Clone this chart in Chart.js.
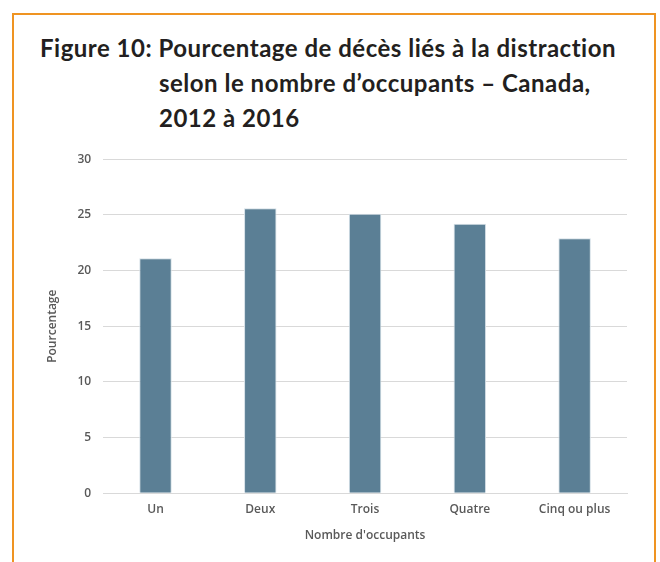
<!DOCTYPE html>
<html><head><meta charset="utf-8">
<script src="https://cdn.jsdelivr.net/npm/chart.js@4.4.1/dist/chart.umd.min.js"></script>
<style>
html,body{margin:0;padding:0;background:#fff;width:660px;height:562px;overflow:hidden;}
#frame{position:absolute;left:12px;top:13px;width:644px;height:600px;border:2px solid #EF9422;box-sizing:border-box;}
#title{position:absolute;left:40px;top:30px;font-family:Lato,"Open Sans",sans-serif;font-weight:700;font-size:24px;letter-spacing:0.5px;font-variant-ligatures:none;color:#231f20;line-height:35px;white-space:nowrap;}
#title .ind{padding-left:119px;display:block;}
#wrap{position:absolute;left:14px;top:140px;width:640px;height:422px;}
</style></head><body>
<div id="frame"></div>
<div id="title">Figure 10: Pourcentage de décès liés à la distraction<span class="ind">selon le nombre d’occupants – Canada,</span><span class="ind">2012 à 2016</span></div>
<div id="wrap"><canvas id="c"></canvas></div>
<script>
const categories = ["Un","Deux","Trois","Quatre","Cinq ou plus"];
const values = [21.1, 25.6, 25.1, 24.2, 22.9];
const yTicks = [0,5,10,15,20,25,30];
const xTitle = "Nombre d'occupants";
const yTitle = "Pourcentage";

new Chart(document.getElementById('c'), {
  type: 'bar',
  data: { labels: categories, datasets: [{ data: values, backgroundColor: '#5B7F95', borderColor: '#D5E0E7', borderWidth: 1, categoryPercentage: 1, barPercentage: 0.31 }] },
  options: {
    responsive: true, maintainAspectRatio: false, animation: false,
    layout: { padding: { left: 27, right: 27, top: 9, bottom: 15 } },
    plugins: { legend: { display: false }, tooltip: { enabled: false } },
    scales: {
      x: {
        grid: { display: false, drawTicks: false },
        border: { color: '#D9D9D9', width: 1 },
        ticks: { color: '#595959', font: { family: 'Open Sans', size: 12, weight: '600' }, padding: 9 },
        title: { display: true, text: xTitle, color: '#595959', font: { family: 'Open Sans', size: 12, weight: '600' }, padding: { top: 3, bottom: 4 } }
      },
      y: {
        min: 0, max: 30,
        afterBuildTicks: s => { s.ticks = yTicks.map(v => ({ value: v })); },
        grid: { color: '#D9D9D9', drawTicks: false },
        border: { display: false },
        ticks: { color: '#595959', font: { family: 'Open Sans', size: 12, weight: '600' }, padding: 12 },
        title: { display: true, text: yTitle, color: '#595959', font: { family: 'Open Sans', size: 12, weight: '600' }, padding: { top: 4, bottom: 6 } }
      }
    }
  }
});
</script>
</body></html>
